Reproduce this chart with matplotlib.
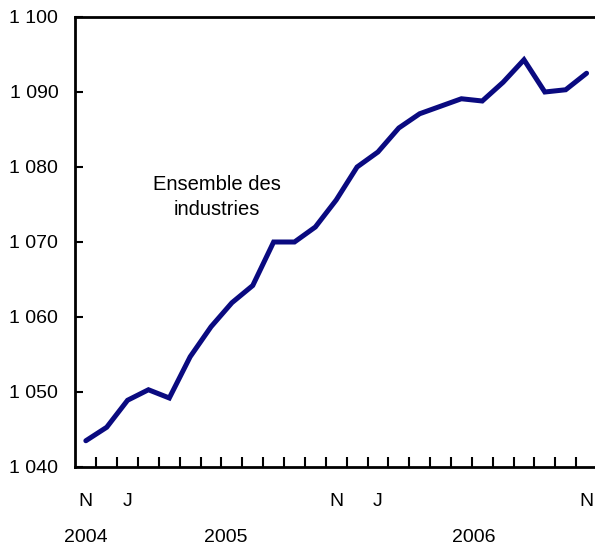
import matplotlib.pyplot as plt
from matplotlib.ticker import FuncFormatter, MultipleLocator
import matplotlib.transforms as mtransforms

plt.rcParams['font.family'] = ['Liberation Sans', 'DejaVu Sans']

# Données mensuelles, novembre 2004 à novembre 2006
mois = ['N', 'D', 'J', 'F', 'M', 'A', 'M', 'J', 'J', 'A', 'S', 'O',
        'N', 'D', 'J', 'F', 'M', 'A', 'M', 'J', 'J', 'A', 'S', 'O', 'N']
valeurs = [1043.5, 1045.3, 1048.9, 1050.3, 1049.2, 1054.7, 1058.7, 1061.9,
           1064.2, 1070.0, 1070.0, 1072.0, 1075.6, 1080.0, 1082.0, 1085.2,
           1087.1, 1088.1, 1089.1, 1088.8, 1091.3, 1094.3, 1090.0, 1090.3, 1092.5]
mois_affiches = [0, 2, 12, 14, 24]
annees = ['2004', '2005', '2006']
pos_annees = [0, 6.7, 18.6]

x = list(range(len(valeurs)))

fig = plt.figure(figsize=(5.95, 5.46), dpi=100)
ax = fig.add_axes([75 / 595, 1 - 467 / 546, 522 / 595, 450 / 546])

ax.plot(x, valeurs, color='#0a0a80', linewidth=3.6, solid_capstyle='round',
        solid_joinstyle='miter')

ax.set_xlim(-0.52, 24.5)
ax.set_ylim(1040, 1100)

# axe y
ax.yaxis.set_major_locator(MultipleLocator(10))
ax.yaxis.set_major_formatter(FuncFormatter(lambda v, p: f'{int(v):,}'.replace(',', ' ')))
ax.tick_params(axis='y', direction='in', length=6, width=1.5, pad=12, labelsize=14)

# axe x : repères entre les mois, étiquettes sous certains mois
ax.set_xticks([i + 0.5 for i in range(24)], minor=True)
ax.set_xticks(mois_affiches)
ax.set_xticklabels([mois[i] for i in mois_affiches])
ax.tick_params(axis='x', which='major', length=0, pad=19, labelsize=14)
ax.tick_params(axis='x', which='minor', direction='in', length=7, width=1.5)

for s in ['left', 'bottom', 'top']:
    ax.spines[s].set_linewidth(2)
ax.spines['right'].set_visible(False)

trans = mtransforms.blended_transform_factory(ax.transData, fig.transFigure)
for a, p in zip(annees, pos_annees):
    ax.text(p, 1 - 538 / 546, a, transform=trans, ha='center', va='center', fontsize=14)

ax.text(6.3, 1076.0, 'Ensemble des\nindustries', ha='center', va='center',
        fontsize=14.5, linespacing=1.45)

fig.savefig('out.png', dpi=100)
